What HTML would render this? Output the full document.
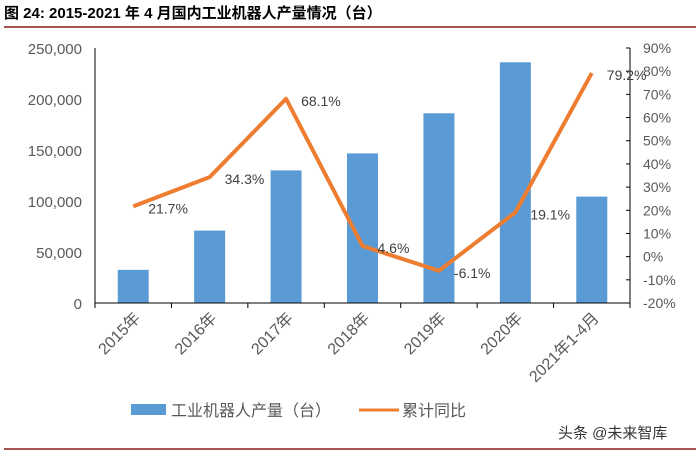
<!DOCTYPE html>
<html><head><meta charset="utf-8"><style>
body{margin:0;background:#fff;width:700px;height:454px;overflow:hidden;font-family:"Liberation Sans","Noto Sans CJK SC",sans-serif}
</style></head><body>
<svg width="700" height="454" xmlns="http://www.w3.org/2000/svg">
<text x="4" y="18" font-size="15" font-weight="bold" font-family="Liberation Sans, Noto Sans CJK SC, sans-serif" fill="#000">图 24:  2015-2021 年 4 月国内工业机器人产量情况（台）</text>
<line x1="4" y1="27" x2="696" y2="27" stroke="#8b1a1a" stroke-width="1.5"/>
<line x1="4" y1="449" x2="696" y2="449" stroke="#8b1a1a" stroke-width="1.5"/>
<g id="plot"></g>
<rect x="131" y="404" width="35" height="11" fill="#5b9bd5"/>
<text x="171" y="416" font-size="16" fill="#595959">工业机器人产量（台）</text>
<line x1="359" y1="410" x2="399" y2="410" stroke="#ed7d31" stroke-width="3"/>
<text x="402" y="416" font-size="16" fill="#595959">累计同比</text>
<text x="558" y="438" font-size="15" fill="#333">头条 @未来智库</text>
</svg>
<script>
const categories=["2015年","2016年","2017年","2018年","2019年","2020年","2021年1-4月"];
const production=[32500,71000,130000,146700,186000,236000,104300];
const yoy=[21.7,34.3,68.1,4.6,-6.1,19.1,79.2];
const yoyLabels=["21.7%","34.3%","68.1%","4.6%","-6.1%","19.1%","79.2%"];
const leftTicks=[0,50000,100000,150000,200000,250000];
const rightTicks=[-20,-10,0,10,20,30,40,50,60,70,80,90];
const X0=95,X1=630,Ytop=48,Ybot=303;
const yL=v=>Ybot-(v/250000)*(Ybot-Ytop);
const yR=v=>Ybot-((v+20)/110)*(Ybot-Ytop);
const step=(X1-X0)/categories.length;
const xc=i=>X0+step*(i+0.5);
const NS="http://www.w3.org/2000/svg";
const g=document.getElementById("plot");
function mk(t,a,txt){const e=document.createElementNS(NS,t);for(const k in a)e.setAttribute(k,a[k]);if(txt!==undefined)e.textContent=txt;g.appendChild(e);return e;}
production.forEach((v,i)=>{const r=mk("rect",{x:xc(i)-15.5,y:yL(v),width:31,height:Ybot-yL(v),fill:"#5b9bd5"});

});
leftTicks.forEach(v=>{const t=mk("text",{x:82,y:yL(v)+6,"font-size":15,fill:"#595959","text-anchor":"end"},v.toLocaleString("en-US"));

});
rightTicks.forEach(v=>{const t=mk("text",{x:643,y:yR(v)+5,"font-size":14,fill:"#595959"},v+"%");


const l=mk("line",{x1:X1-4,x2:X1,y1:yR(v),y2:yR(v),stroke:"#000"});

});
[[X0,Ytop,X0,Ybot],[X1,Ytop,X1,Ybot],[X0,Ybot,X1,Ybot]].forEach(a=>{const l=mk("line",{x1:a[0],y1:a[1],x2:a[2],y2:a[3],stroke:"#000","stroke-width":1});

});
for(let i=0;i<=categories.length;i++){const l=mk("line",{x1:X0+step*i,x2:X0+step*i,y1:Ybot,y2:Ybot+5,stroke:"#000"});

}
categories.forEach((c,i)=>{const x=xc(i)+8,y=Ybot+16;const t=mk("text",{x:x,y:y,"font-size":16,fill:"#595959","text-anchor":"end",transform:`rotate(-45 ${x} ${y})`},c);

});
const pts=yoy.map((v,i)=>xc(i)+","+yR(v)).join(" ");
const pl=mk("polyline",{points:pts,fill:"none",stroke:"#ed7d31","stroke-width":4,"stroke-linejoin":"round"});


yoy.forEach((v,i)=>{const t=mk("text",{x:xc(i)+15,y:yR(v)+7,"font-size":14,fill:"#404040"},yoyLabels[i]);

});
</script>
</body></html>
